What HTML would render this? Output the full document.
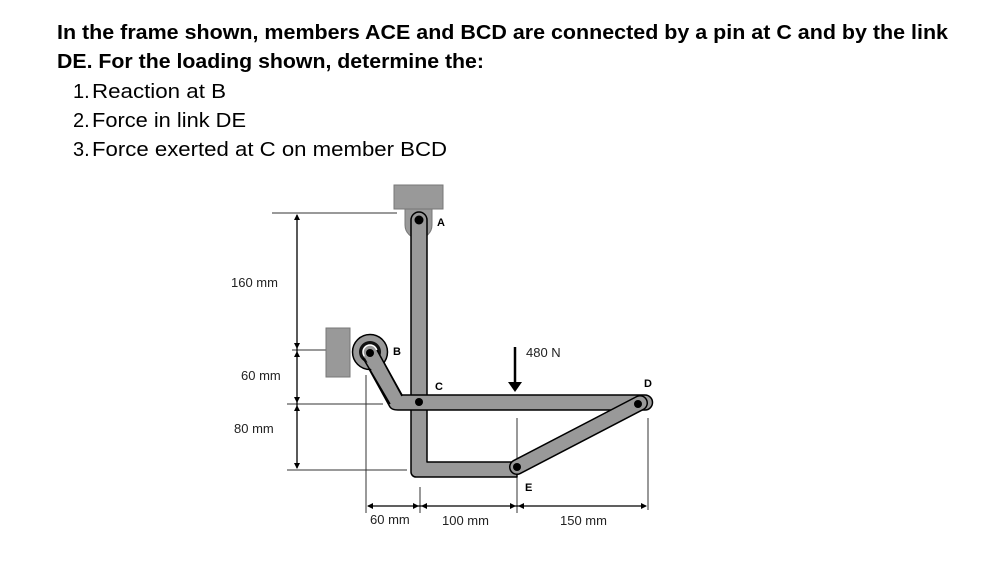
<!DOCTYPE html>
<html><head><style>
html,body{margin:0;padding:0;background:#fff;}
svg{display:block;}
</style></head><body>
<svg width="1005" height="565" viewBox="0 0 1005 565" xmlns="http://www.w3.org/2000/svg" font-family="Liberation Sans, sans-serif">
<rect width="1005" height="565" fill="#fff"/>
<g fill="#000">
<text x="57" y="39" font-size="20" font-weight="bold" textLength="891" lengthAdjust="spacingAndGlyphs">In the frame shown, members ACE and BCD are connected by a pin at C and by the link</text>
<text x="57" y="68" font-size="20" font-weight="bold" textLength="427" lengthAdjust="spacingAndGlyphs">DE. For the loading shown, determine the:</text>
<text x="73" y="98" font-size="20">1.</text><text x="92" y="98" font-size="20" textLength="134" lengthAdjust="spacingAndGlyphs">Reaction at B</text>
<text x="73" y="127" font-size="20">2.</text><text x="92" y="127" font-size="20" textLength="154" lengthAdjust="spacingAndGlyphs">Force in link DE</text>
<text x="73" y="156" font-size="20">3.</text><text x="92" y="156" font-size="20" textLength="355" lengthAdjust="spacingAndGlyphs">Force exerted at C on member BCD</text>
</g>
<!-- dimension lines -->
<g stroke="#333" stroke-width="1" fill="none">
<line x1="272" y1="213" x2="397" y2="213"/>
<line x1="292" y1="350" x2="326" y2="350"/>
<line x1="287" y1="404" x2="383" y2="404"/>
<line x1="287" y1="470" x2="407" y2="470"/>
<line x1="366" y1="375" x2="366" y2="513"/>
<line x1="420" y1="487" x2="420" y2="513"/>
<line x1="517" y1="418" x2="517" y2="513"/>
<line x1="648" y1="418" x2="648" y2="510"/>
</g>
<g stroke="#000" stroke-width="1.3" fill="none">
<line x1="297" y1="215" x2="297" y2="468"/>
<line x1="368" y1="506" x2="646" y2="506"/>
</g>
<g fill="#000">
<path d="M297 214 l-3 6 h6z M297 349 l-3 -6 h6z M297 351 l-3 6 h6z M297 403 l-3 -6 h6z M297 405 l-3 6 h6z M297 469 l-3 -6 h6z"/>
<path d="M367 506 l6 -3 v6z M419 506 l-6 -3 v6z M421 506 l6 -3 v6z M516 506 l-6 -3 v6z M518 506 l6 -3 v6z M647 506 l-6 -3 v6z"/>
</g>
<!-- supports -->
<rect x="394" y="185" width="49" height="24" fill="#999" stroke="#777" stroke-width="1"/>
<path d="M405 209 H432 V225 A13.5 13.5 0 0 1 405 225 Z" fill="#999" stroke="#777"/>
<rect x="326" y="328" width="24" height="49" fill="#999" stroke="#777"/>
<!-- member ACE -->
<path d="M411 220 A8 8 0 0 1 427 220 V462 H517 V477 H416 A5 5 0 0 1 411 472 Z" fill="#999" stroke="#000" stroke-width="1.5" stroke-linejoin="round"/>
<!-- member BCD -->
<path d="M363 358 L390 407 Q392 410 398 410 H645 A7.5 7.5 0 0 0 645 395 H402 L377 350 Z" fill="#999" stroke="#000" stroke-width="1.5" stroke-linejoin="round"/>
<!-- link DE -->
<line x1="517" y1="467" x2="640" y2="403" stroke="#000" stroke-width="16" stroke-linecap="round"/>
<line x1="517" y1="467" x2="640" y2="403" stroke="#999" stroke-width="13" stroke-linecap="round"/>
<!-- roller B -->
<circle cx="370" cy="352" r="17.5" fill="#999" stroke="#000" stroke-width="1.5"/>
<circle cx="370" cy="352" r="11" fill="#111"/>
<circle cx="370" cy="352" r="7" fill="#999" stroke="#fff" stroke-width="1.5"/>
<path d="M364 356 L390 404 L402 396 L377 350 Z" fill="#999"/>
<path d="M363 358 L390 404 M377 350 L402 396" stroke="#000" stroke-width="1.5"/>
<!-- pins -->
<g fill="#000">
<circle cx="419" cy="220" r="4.5"/>
<circle cx="370" cy="353" r="4"/>
<circle cx="419" cy="402" r="4"/>
<circle cx="638" cy="404" r="4"/>
<circle cx="517" cy="467" r="4"/>
</g>
<!-- force -->
<line x1="515" y1="347" x2="515" y2="384" stroke="#000" stroke-width="2.5"/>
<path d="M508 382 L522 382 L515 392 Z" fill="#000"/>
<!-- labels -->
<g font-size="13" fill="#222">
<text x="231" y="287">160 mm</text>
<text x="241" y="380">60 mm</text>
<text x="234" y="433">80 mm</text>
<text x="370" y="524">60 mm</text>
<text x="442" y="525">100 mm</text>
<text x="560" y="525">150 mm</text>
<text x="526" y="357">480 N</text>
</g>
<g font-size="11" font-weight="bold" fill="#000">
<text x="437" y="226">A</text>
<text x="393" y="355">B</text>
<text x="435" y="390">C</text>
<text x="644" y="387">D</text>
<text x="525" y="491">E</text>
</g>
</svg>
</body></html>
